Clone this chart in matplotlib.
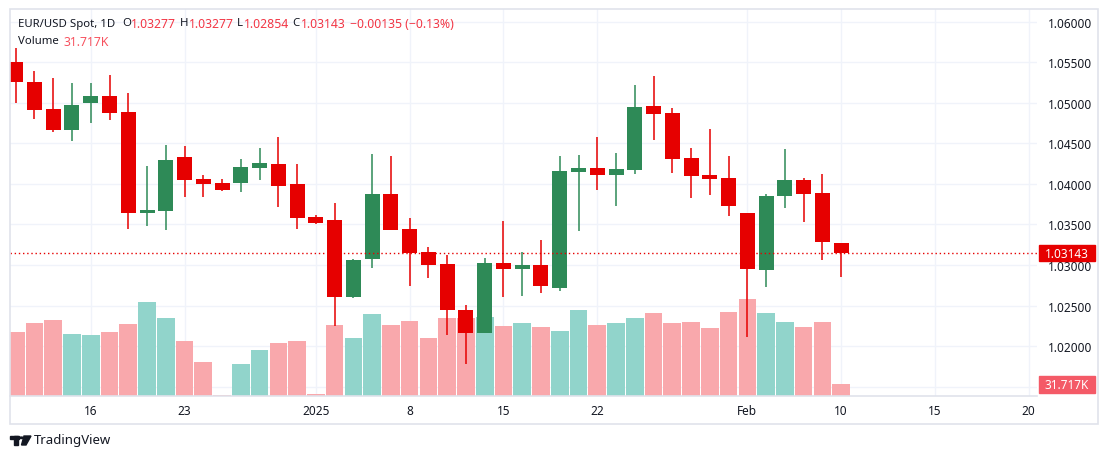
import matplotlib
matplotlib.use("Agg")
import matplotlib.pyplot as plt
import matplotlib.transforms as mtransforms
from matplotlib.patches import Rectangle, Polygon, Circle

plt.rcParams['font.family'] = ['Noto Sans', 'DejaVu Sans']

# daily bars, 10 Dec 2024 .. 10 Feb 2025
dates = ["Dec10", "Dec11", "Dec12", "Dec13", "Dec16", "Dec17", "Dec18", "Dec19", "Dec20",
         "Dec23", "Dec24", "Dec25", "Dec26", "Dec27", "Dec30", "Dec31", "Jan01", "Jan02",
         "Jan03", "Jan06", "Jan07", "Jan08", "Jan09", "Jan10", "Jan13", "Jan14", "Jan15",
         "Jan16", "Jan17", "Jan20", "Jan21", "Jan22", "Jan23", "Jan24", "Jan27", "Jan28",
         "Jan29", "Jan30", "Jan31", "Feb03", "Feb04", "Feb05", "Feb06", "Feb07", "Feb10"]
opens = [1.05500, 1.05253, 1.04924, 1.04669, 1.04998, 1.05085, 1.04887, 1.03645, 1.03670,
         1.04332, 1.04061, 1.04011, 1.04016, 1.04201, 1.04246, 1.03999, 1.03592, 1.03555,
         1.02609, 1.03078, 1.03876, 1.03444, 1.03156, 1.03012, 1.02445, 1.02165, 1.03025,
         1.02955, 1.03000, 1.02720, 1.04151, 1.04197, 1.04114, 1.04176, 1.04961, 1.04875,
         1.04320, 1.04110, 1.04073, 1.03641, 1.02942, 1.03855, 1.04048, 1.03888, 1.03277]
highs = [1.05673, 1.05393, 1.05303, 1.05245, 1.05245, 1.05344, 1.05122, 1.04221, 1.04480,
         1.04468, 1.04110, 1.04061, 1.04308, 1.04443, 1.04579, 1.04246, 1.03620, 1.03765,
         1.03074, 1.04369, 1.04345, 1.03580, 1.03222, 1.03123, 1.02506, 1.03086, 1.03543,
         1.03156, 1.03308, 1.04345, 1.04357, 1.04579, 1.04382, 1.05220, 1.05331, 1.04933,
         1.04443, 1.04678, 1.04345, 1.03641, 1.03876, 1.04431, 1.04073, 1.04122, 1.03277]
lows = [1.04994, 1.04801, 1.04645, 1.04534, 1.04752, 1.04793, 1.03444, 1.03485, 1.03436,
        1.03843, 1.03843, 1.03913, 1.03905, 1.04053, 1.03720, 1.03444, 1.03510, 1.02251,
        1.02597, 1.02963, 1.03432, 1.02745, 1.02844, 1.02140, 1.01783, 1.02160, 1.02601,
        1.02622, 1.02659, 1.02675, 1.03423, 1.03929, 1.03732, 1.04127, 1.04546, 1.04139,
        1.03831, 1.03868, 1.03608, 1.02116, 1.02733, 1.03707, 1.03534, 1.03066, 1.02854]
closes = [1.05262, 1.04916, 1.04669, 1.04974, 1.05085, 1.04879, 1.03645, 1.03674, 1.04295,
          1.04053, 1.04003, 1.03929, 1.04209, 1.04258, 1.03979, 1.03580, 1.03522, 1.02609,
          1.03062, 1.03876, 1.03432, 1.03152, 1.03004, 1.02449, 1.02165, 1.03025, 1.02955,
          1.03000, 1.02745, 1.04160, 1.04197, 1.04114, 1.04184, 1.04949, 1.04867, 1.04312,
          1.04102, 1.04065, 1.03732, 1.02955, 1.03851, 1.04048, 1.03880, 1.03278, 1.03143]
volumes_k = [174.0, 197.5, 205.7, 167.6, 164.9, 174.0, 194.8, 254.6, 211.1,
             148.6, 91.5, 2.0, 86.1, 124.2, 143.2, 148.6, 4.5, 192.1,
             156.8, 222.0, 192.1, 203.0, 156.8, 211.1, 211.1, 213.9, 189.4,
             197.5, 186.7, 175.8, 232.9, 192.1, 197.5, 211.1, 224.7, 197.5,
             200.3, 184.0, 227.5, 262.8, 224.7, 200.3, 186.7, 200.3, 31.717]

tick_index = [4, 9, 16, 21, 26, 31, 39, 44, 49, 54]
tick_labels = ["16", "23", "2025", "8", "15", "22", "Feb", "10", "15", "20"]
price_ticks = [1.015, 1.020, 1.025, 1.030, 1.035, 1.040, 1.045, 1.050, 1.055, 1.060]

UP = "#2e8a57"
DOWN = "#e60000"
VOL_UP = "#91d4cb"
VOL_DOWN = "#f9a8ac"
TXT = "#131722"
GRID = "#f0f3fa"
BORDER = "#e0e3eb"

W, H = 1109, 460
fig = plt.figure(figsize=(W / 100, H / 100), dpi=100)
ax = fig.add_axes([10 / W, 1 - 397 / H, (1037 - 10) / W, (397 - 10) / H])

x = list(range(len(dates)))
ax.set_xlim(-0.304, 54.44)
ax.set_ylim(1.01385, 1.06157)
vol_top = 1052.0

# volume bars (axes-fraction heights)
vcolors = [VOL_UP if c >= o else VOL_DOWN for o, c in zip(opens, closes)]
ax.bar(x, [v / vol_top for v in volumes_k], width=0.94, bottom=0, color=vcolors,
       transform=ax.get_xaxis_transform(), zorder=1, linewidth=0)

# candles
ccolors = [UP if c >= o else DOWN for o, c in zip(opens, closes)]
ax.vlines(x, lows, highs, colors=ccolors, linewidth=1.1, zorder=2)
bodies = [max(abs(c - o), 0.00012) for o, c in zip(opens, closes)]
bottoms = [min(o, c) for o, c in zip(opens, closes)]
ax.bar(x, bodies, bottom=bottoms, width=0.8, color=ccolors, linewidth=0, zorder=3)

# last price line
last = closes[-1]
ax.axhline(last, color=DOWN, linewidth=1.0, linestyle=(0, (1, 2)), zorder=4)

# axes styling
ax.set_axisbelow(True)
ax.grid(True, color=GRID, linewidth=1.0)
ax.set_xticks(tick_index)
ax.set_xticklabels(tick_labels)
for lab in ax.get_xticklabels():
    if lab.get_text() == "2025":
        lab.set_fontweight("bold")
ax.set_yticks(price_ticks)
ax.set_yticklabels(["" if p < 1.0175 else f"{p:.5f}" for p in price_ticks])
ax.yaxis.tick_right()
ax.tick_params(axis="both", length=0, labelsize=8.5, labelcolor=TXT)
ax.tick_params(axis="x", pad=6)
ax.tick_params(axis="y", pad=8)
for s in ["top", "right", "left"]:
    ax.spines[s].set_visible(False)
ax.spines["bottom"].set_color(BORDER)
ax.spines["bottom"].set_linewidth(1.2)

# outer frame
fig.add_artist(Rectangle((10 / W, 1 - 425 / H), (1098 - 10) / W, (425 - 10) / H,
                         transform=fig.transFigure, fill=False, edgecolor=BORDER, linewidth=1.2))

# last price label
tr = mtransforms.blended_transform_factory(fig.transFigure, ax.transData)
ax.add_artist(Rectangle((1039 / W, last - 0.00098), 56 / W, 0.00196, transform=tr,
                        color=DOWN, clip_on=False, zorder=6))
ax.text(1067 / W, last, f"{last:.5f}", transform=tr, ha="center", va="center",
        color="white", fontsize=8.5, fontweight="bold", zorder=7, clip_on=False)

# last volume label
trv = mtransforms.blended_transform_factory(fig.transFigure, ax.transAxes)
vy = volumes_k[-1] / vol_top
ax.add_artist(Rectangle((1039 / W, vy - 0.0215), 56 / W, 0.043, transform=trv,
                        color="#f45a67", clip_on=False, zorder=6))
ax.text(1067 / W, vy, f"{volumes_k[-1]:.3f}K", transform=trv, ha="center", va="center",
        color="white", fontsize=8.5, fontweight="bold", zorder=7, clip_on=False)

# legend header
chg = closes[-1] - closes[-2]
pct = chg / closes[-2] * 100
RED = "#f23645"
def ftext(px, py, s, color=TXT, size=8.2):
    fig.text(px / W, 1 - py / H, s, color=color, fontsize=size, va="center", ha="left")

ftext(18, 24, "EUR/USD Spot, 1D")
ftext(122, 24, "O")
ftext(131, 24, f"{opens[-1]:.5f}", RED, 8.8)
ftext(180, 24, "H")
ftext(189, 24, f"{highs[-1]:.5f}", RED, 8.8)
ftext(237, 24, "L")
ftext(244, 24, f"{lows[-1]:.5f}", RED, 8.8)
ftext(292, 24, "C")
ftext(301, 24, f"{closes[-1]:.5f}", RED, 8.8)
ftext(350, 24, f"\u2212{abs(chg):.5f} (\u2212{abs(pct):.2f}%)", RED, 8.8)
ftext(18, 42, "Volume")
ftext(64, 42, f"{volumes_k[-1]:.3f}K", "#f7525f", 8.8)

# TradingView mark
fig.add_artist(Rectangle((10 / W, 1 - 440 / H), 9 / W, 3 / H, transform=fig.transFigure, color=TXT))
fig.add_artist(Rectangle((14 / W, 1 - 446 / H), 4 / W, 9 / H, transform=fig.transFigure, color=TXT))
fig.add_artist(Circle((21.5 / W, 1 - 438.8 / H), 1.8 / W, transform=fig.transFigure, color=TXT))
fig.add_artist(Polygon([(24 / W, 1 - 437 / H), (31 / W, 1 - 437 / H), (26 / W, 1 - 446 / H),
                        (21.5 / W, 1 - 446 / H)], closed=True, transform=fig.transFigure, color=TXT))
fig.text(34 / W, 1 - 441 / H, "TradingView", color=TXT, fontsize=9.5, va="center", ha="left")

fig.savefig("out.png", dpi=100, facecolor="white")
